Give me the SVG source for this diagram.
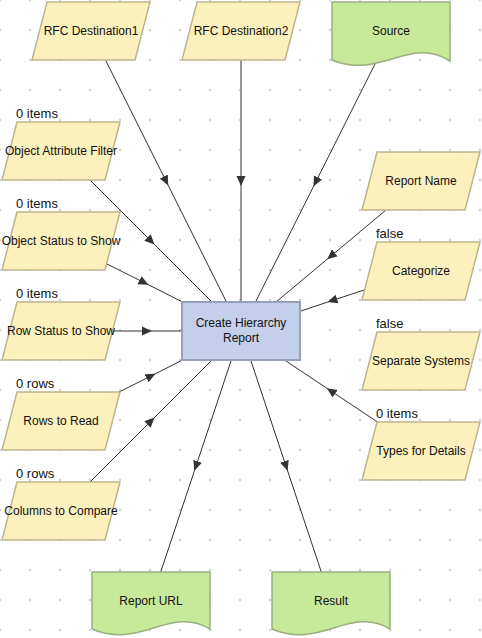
<svg xmlns="http://www.w3.org/2000/svg" width="482" height="638" viewBox="0 0 482 638">
<defs>
<pattern id="grid" x="-15" y="-15" width="30" height="30" patternUnits="userSpaceOnUse"><circle cx="15" cy="15" r="1.2" fill="#cfcfcf"/></pattern>
<marker id="arr" viewBox="0 0 10 10" refX="5" refY="5" markerWidth="10" markerHeight="10" markerUnits="userSpaceOnUse" orient="auto"><path d="M0,0.5 L10,5 L0,9.5 Z" fill="#333"/></marker>
<style>
.par{fill:#fcf0bc;stroke:#bcb48e;stroke-width:1.5}
.doc{fill:#c7e99a;stroke:#9bae80;stroke-width:1.5}
.proc{fill:#c3cfeb;stroke:#97a2b8;stroke-width:2}
.t{font-family:"Liberation Sans",Arial,sans-serif;font-size:12px;fill:#111;text-anchor:middle}
.lbl{font-family:"Liberation Sans",Arial,sans-serif;font-size:13px;fill:#111}
.c{fill:none;stroke:#333;stroke-width:1;marker-mid:url(#arr)}
</style>
</defs>
<rect width="482" height="638" fill="#fff"/>
<rect width="482" height="638" fill="url(#grid)"/>
<g id="connectors">
<polyline class="c" points="105.5,60 166,181 226.5,302"/>
<polyline class="c" points="241,60 241,181 241,302" style="stroke:#777;stroke-width:1.5"/>
<polyline class="c" points="376,62 315.75,182 255.5,302"/>
<polyline class="c" points="90,180 151,241 212,302"/>
<polyline class="c" points="105,263 144,282.5 182.5,302"/>
<polyline class="c" points="111.5,331 146.75,331 182,331"/>
<polyline class="c" points="119,392 151,376 182.5,360"/>
<polyline class="c" points="90,482 151,421 212,360"/>
<polyline class="c" points="386,210 331,256 276,302"/>
<polyline class="c" points="364.7,289.8 332.3,300.5 300,311.3"/>
<polyline class="c" points="377.5,422 331,391 284.5,360"/>
<polyline class="c" points="231.3,360 196,466 160.7,572"/>
<polyline class="c" points="250.7,360 286,466 321.3,572"/>
</g>
<g id="rfc1"><path class="par" d="M47,2 H150 L135,60 H32 Z"/><text class="t" x="91" y="35">RFC Destination1</text></g>
<g id="rfc2"><path class="par" d="M197,2 H300 L285,60 H182 Z"/><text class="t" x="241" y="35">RFC Destination2</text></g>
<g id="source"><path class="doc" d="M332,2 H450 V61 C410,35 380,80 332,60 Z"/><text class="t" x="391" y="35">Source</text></g>
<g id="oaf"><text class="lbl" x="16" y="118">0 items</text><path class="par" d="M17,122 H120 L105,180 H2 Z"/><text class="t" x="61" y="155">Object Attribute Filter</text></g>
<g id="oss"><text class="lbl" x="16" y="208">0 items</text><path class="par" d="M17,212 H120 L105,270 H2 Z"/><text class="t" x="61" y="245">Object Status to Show</text></g>
<g id="rss"><text class="lbl" x="16" y="298">0 items</text><path class="par" d="M17,302 H120 L105,360 H2 Z"/><text class="t" x="61" y="335">Row Status to Show</text></g>
<g id="rtr"><text class="lbl" x="16" y="388">0 rows</text><path class="par" d="M17,392 H120 L105,450 H2 Z"/><text class="t" x="61" y="425">Rows to Read</text></g>
<g id="ctc"><text class="lbl" x="16" y="478">0 rows</text><path class="par" d="M17,482 H120 L105,540 H2 Z"/><text class="t" x="61" y="515">Columns to Compare</text></g>
<g id="rn"><path class="par" d="M377,152 H480 L465,210 H362 Z"/><text class="t" x="421" y="185">Report Name</text></g>
<g id="cat"><text class="lbl" x="376" y="238">false</text><path class="par" d="M377,242 H480 L465,300 H362 Z"/><text class="t" x="421" y="275">Categorize</text></g>
<g id="sep"><text class="lbl" x="376" y="328">false</text><path class="par" d="M377,332 H480 L465,390 H362 Z"/><text class="t" x="421" y="365">Separate Systems</text></g>
<g id="tfd"><text class="lbl" x="376" y="418">0 items</text><path class="par" d="M377,422 H480 L465,480 H362 Z"/><text class="t" x="421" y="455">Types for Details</text></g>
<g id="chr"><rect class="proc" x="182" y="302" width="118" height="58"/><text class="t" x="241" y="327">Create Hierarchy</text><text class="t" x="241" y="342">Report</text></g>
<g id="url"><path class="doc" d="M92,572 H210 V629 C170,605 140,650 92,629 Z"/><text class="t" x="151" y="605">Report URL</text></g>
<g id="result"><path class="doc" d="M272,572 H390 V629 C350,605 320,650 272,629 Z"/><text class="t" x="331" y="605">Result</text></g>
</svg>
